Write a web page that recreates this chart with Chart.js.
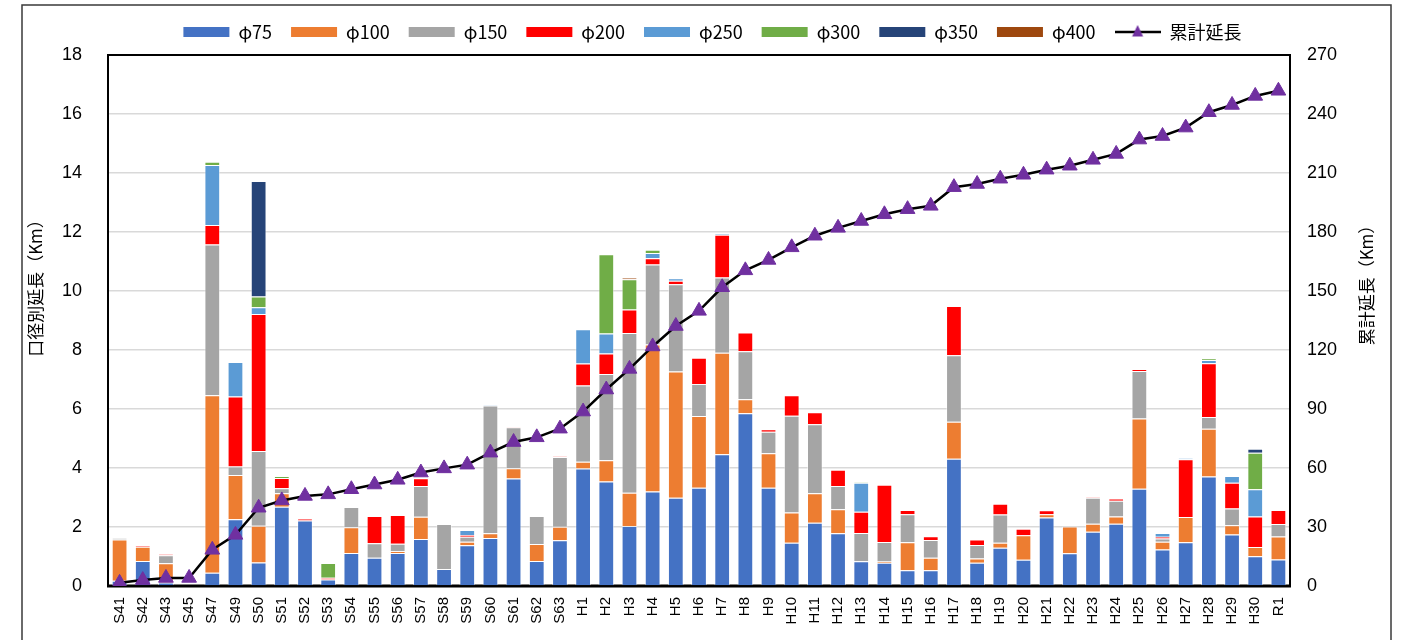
<!DOCTYPE html>
<html lang="ja">
<head>
<meta charset="utf-8">
<title>口径別延長と累計延長</title>
<script src="https://cdn.jsdelivr.net/npm/chart.js@4.4.1/dist/chart.umd.min.js"></script>
<style>
  html, body { margin: 0; padding: 0; background: #fff; }
  canvas { display: block; }
</style>
</head>
<body>
<canvas id="pipeChart" width="1405" height="640"></canvas>
<script>
// 布設年度
const years = ['S41','S42','S43','S45','S47','S49','S50','S51','S52','S53','S54','S55','S56','S57','S58','S59','S60','S61','S62','S63',
  'H1','H2','H3','H4','H5','H6','H7','H8','H9','H10','H11','H12','H13','H14','H15','H16','H17','H18','H19','H20',
  'H21','H22','H23','H24','H25','H26','H27','H28','H29','H30','R1'];

// 口径別延長 (km)
const phi75  = [0.18,0.85,0.12,0,0.45,2.26,0.80,2.69,2.22,0.22,1.12,0.96,1.12,1.59,0.58,1.38,1.63,3.64,0.85,1.55,
  3.98,3.54,2.03,3.20,2.99,3.33,4.47,5.86,3.33,1.47,2.14,1.79,0.84,0.79,0.53,0.53,4.31,0.79,1.30,0.89,
  2.32,1.11,1.84,2.11,3.30,1.24,1.48,3.71,1.75,1.01,0.90];
const phi100 = [1.40,0.48,0.65,0,6.02,1.50,1.24,0.45,0,0,0.87,0,0.06,0.76,0,0.12,0.16,0.35,0.57,0.46,
  0.23,0.72,1.13,4.99,4.28,2.43,3.44,0.47,1.17,1.02,1.00,0.81,0,0.04,0.95,0.43,1.26,0.14,0.17,0.83,
  0.11,0.91,0.27,0.25,2.38,0.26,0.86,1.62,0.31,0.31,0.78];
const phi150 = [0.04,0,0.27,0,5.11,0.29,2.54,0.17,0,0,0.69,0.49,0.25,1.04,1.52,0.17,4.33,1.39,0.95,2.36,
  2.59,2.93,5.42,2.71,2.96,1.09,2.55,1.63,0.73,3.28,2.34,0.79,0.96,0.66,0.95,0.60,2.25,0.46,0.95,0,
  0,0,0.88,0.53,1.61,0.11,0,0.40,0.57,0,0.42];
const phi200 = [0,0.03,0.04,0,0.66,2.37,4.64,0.35,0.07,0.06,0,0.92,0.98,0.26,0,0.06,0,0.02,0,0.02,
  0.74,0.69,0.79,0.21,0.12,0.89,1.45,0.63,0.08,0.70,0.41,0.55,0.72,1.94,0.15,0.13,1.67,0.19,0.37,0.22,
  0.14,0,0.02,0.08,0.07,0.06,1.96,1.82,0.87,1.04,0.48];
const phi250 = [0,0,0,0,2.03,1.17,0.23,0,0,0,0,0,0,0,0,0.17,0.02,0,0,0,
  1.16,0.68,0,0.18,0.08,0,0.02,0,0,0,0,0,0.98,0,0,0,0,0,0,0,
  0,0,0,0,0,0.13,0.03,0.11,0.23,0.92,0];
const phi300 = [0,0,0,0,0.11,0,0.36,0.07,0,0.50,0,0,0,0,0,0,0,0,0,0,
  0,2.69,1.03,0.11,0,0,0,0,0,0,0,0,0.02,0,0,0,0,0,0,0,
  0,0,0,0,0,0,0,0.06,0,1.24,0];
const phi350 = [0,0,0,0,0,0,3.92,0,0,0,0,0,0,0,0,0,0,0,0,0,
  0,0,0,0,0,0,0,0,0,0,0,0,0,0,0,0,0,0,0,0,
  0,0,0,0,0,0,0,0,0,0.13,0];
const phi400 = [0,0,0,0,0,0,0,0,0,0,0,0,0,0,0,0,0,0,0,0,
  0,0,0.04,0,0,0,0,0,0,0,0,0,0,0,0,0,0,0,0,0,
  0,0,0,0,0,0,0,0,0,0,0];

// 累計延長 (km)
const cumulative = [1.6,3.0,4.1,4.1,18.4,26.0,39.8,43.5,45.8,46.6,49.2,51.6,54.0,57.7,59.8,61.7,67.8,73.2,75.6,80.0,
  88.7,99.9,110.4,121.8,132.2,139.9,151.9,160.5,165.8,172.2,178.1,182.1,185.6,189.0,191.6,193.3,202.8,204.4,207.1,209.1,
  211.7,213.7,216.7,219.7,227.0,228.8,233.1,240.9,244.6,249.2,251.8];

const sizeNames  = ['φ75','φ100','φ150','φ200','φ250','φ300','φ350','φ400'];
const sizeValues = [phi75, phi100, phi150, phi200, phi250, phi300, phi350, phi400];
const sizeColors = ['#4472C4','#ED7D31','#A5A5A5','#FF0000','#5B9BD5','#70AD47','#264478','#9E480E'];
const cumulativeName = '累計延長';

const leftTitle  = '口径別延長（Km）';
const rightTitle = '累計延長（Km）';

const latinFont = "'Liberation Sans', Arial, 'Noto Sans CJK JP', sans-serif";
const cjkFont   = "'Noto Sans CJK JP', 'Liberation Sans', sans-serif";

// legend swatch for the line series: short black line with a purple triangle
const lineSwatch = document.createElement('canvas');
lineSwatch.width = 46; lineSwatch.height = 18;
(function () {
  const g = lineSwatch.getContext('2d');
  g.strokeStyle = '#000'; g.lineWidth = 2.5;
  g.beginPath(); g.moveTo(0, 9); g.lineTo(46, 9); g.stroke();
  g.fillStyle = '#7030A0';
  g.beginPath(); g.moveTo(23, 2); g.lineTo(28.5, 13.5); g.lineTo(17.5, 13.5); g.closePath(); g.fill();
})();

const barSets = sizeNames.map((name, i) => ({
  type: 'bar',
  label: name,
  data: sizeValues[i],
  backgroundColor: sizeColors[i],
  borderColor: 'rgba(255,255,255,0.45)',
  borderWidth: 1,
  yAxisID: 'y',
  stack: 'size',
  order: 1,
  barPercentage: 0.68,
  categoryPercentage: 1.0
}));

const lineSet = {
  type: 'line',
  label: cumulativeName,
  data: cumulative,
  yAxisID: 'y2',
  borderColor: '#000',
  borderWidth: 2.5,
  tension: 0,
  pointStyle: 'triangle',
  pointRadius: 8.5,
  pointHoverRadius: 8.5,
  pointBackgroundColor: '#7030A0',
  pointBorderColor: '#7030A0',
  pointBorderWidth: 1,
  order: 0
};

// pushes the plot area a few pixels below the legend row
const legendGap = {
  id: 'legendGap',
  afterInit(chart) {
    const lg = chart.legend;
    if (!lg || lg._gapWrapped) return;
    const fit = lg.fit.bind(lg);
    lg.fit = function () { fit(); this.height += 4; };
    lg._gapWrapped = true;
  }
};

// black frame round the plot area
const plotFrame = {
  id: 'plotFrame',
  beforeDatasetsDraw(chart) {
    const { ctx, chartArea: a } = chart;
    ctx.save();
    ctx.strokeStyle = '#000';
    ctx.lineWidth = 2;
    ctx.strokeRect(a.left, a.top, a.right - a.left, a.bottom - a.top);
    ctx.lineWidth = 3;
    ctx.beginPath(); ctx.moveTo(a.left - 1, a.bottom); ctx.lineTo(a.right + 1, a.bottom); ctx.stroke();
    ctx.restore();
  }
};

// outer border and the two rotated axis titles
const chartDecor = {
  id: 'chartDecor',
  afterDraw(chart) {
    const { ctx } = chart;
    ctx.save();
    ctx.strokeStyle = '#3a3a3a';
    ctx.lineWidth = 1.5;
    ctx.strokeRect(22, 5, 1369, 700);
    ctx.fillStyle = '#000';
    ctx.font = "17px " + cjkFont;
    ctx.textAlign = 'center';
    ctx.textBaseline = 'middle';
    [[leftTitle, 36, 284], [rightTitle, 1367, 281]].forEach(([t, x, y]) => {
      ctx.save();
      ctx.translate(x, y);
      ctx.rotate(-Math.PI / 2);
      ctx.fillText(t, 0, 0);
      ctx.restore();
    });
    ctx.restore();
  }
};

new Chart(document.getElementById('pipeChart'), {
  data: { labels: years, datasets: [...barSets, lineSet] },
  options: {
    responsive: false,
    animation: false,
    devicePixelRatio: 1,
    layout: { padding: { top: 4, left: 20, right: 0, bottom: 0 } },
    plugins: {
      tooltip: { enabled: false },
      legend: {
        position: 'top',
        align: 'center',
        labels: {
          usePointStyle: true,
          pointStyleWidth: 46,
          boxHeight: 10,
          padding: 19,
          color: '#000',
          font: { family: cjkFont, size: 18 },
          sort: (a, b) => a.datasetIndex - b.datasetIndex,
          generateLabels(chart) {
            const items = Chart.defaults.plugins.legend.labels.generateLabels(chart);
            items.forEach(it => {
              const ds = chart.data.datasets[it.datasetIndex];
              if (ds.type === 'line') {
                it.pointStyle = lineSwatch;
                it.lineWidth = 0;
              } else {
                it.pointStyle = 'rect';
                it.lineWidth = 0;
                it.strokeStyle = 'rgba(0,0,0,0)';
              }
            });
            return items;
          }
        }
      }
    },
    scales: {
      x: {
        type: 'category',
        offset: true,
        stacked: true,
        grid: { display: false, drawTicks: false },
        border: { display: false },
        ticks: {
          autoSkip: false,
          minRotation: 90,
          maxRotation: 90,
          padding: 11,
          color: '#000',
          font: { family: latinFont, size: 15 }
        },
        afterFit(s) { s.height = 54; }
      },
      y: {
        position: 'left',
        stacked: true,
        min: 0,
        max: 18,
        grid: { color: '#D9D9D9', lineWidth: 1.5, drawTicks: false },
        border: { display: false },
        ticks: {
          stepSize: 2,
          padding: 26,
          color: '#000',
          font: { family: latinFont, size: 18 }
        },
        afterFit(s) { s.width = 88; }
      },
      y2: {
        position: 'right',
        min: 0,
        max: 270,
        grid: { display: false, drawTicks: false },
        border: { display: false },
        ticks: {
          stepSize: 30,
          padding: 17,
          color: '#000',
          font: { family: latinFont, size: 18 }
        },
        afterFit(s) { s.width = 115; }
      }
    }
  },
  plugins: [legendGap, plotFrame, chartDecor]
});
</script>
</body>
</html>
